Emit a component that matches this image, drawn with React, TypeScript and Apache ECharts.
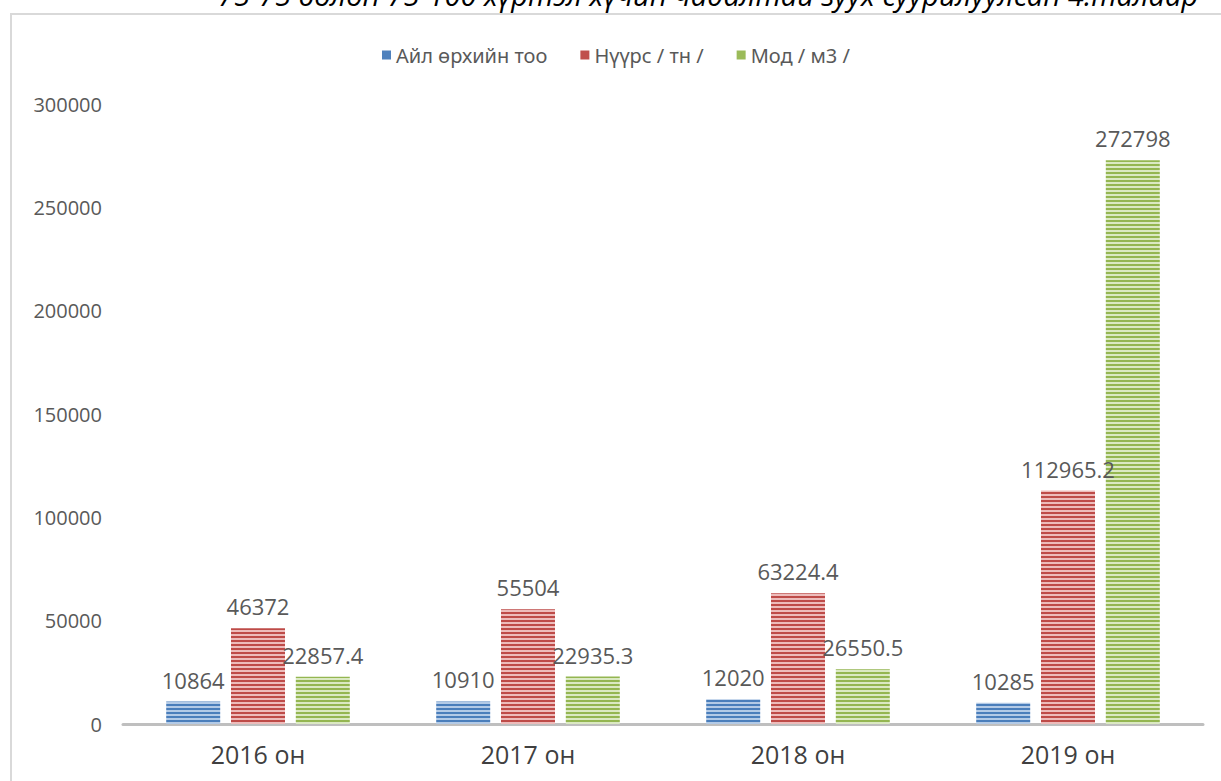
import React, { useEffect, useRef } from "react";
import * as echarts from "echarts";

const categories = ["2016 он", "2017 он", "2018 он", "2019 он"];
const seriesNames = ["Айл өрхийн тоо", "Нүүрс / тн /", "Мод / м3 /"];
const households = [10864, 10910, 12020, 10285];
const coal = [46372, 55504, 63224.4, 112965.2];
const wood = [22857.4, 22935.3, 26550.5, 272798];
const yMax = 300000;
const yInterval = 50000;
const titleText =
  "75-75 болон 75-100 хүртэл хүчин чадалтай зуух суурилуулсан 4.талаар";

const palette = [
  { dark: "#4a7ebb", light: "#b3cae6", legend: "#4f81bd" },
  { dark: "#be4b48", light: "#edbcbb", legend: "#c0504d" },
  { dark: "#94b651", light: "#dbe9c3", legend: "#9bbb59" },
];

function stripes(dark: string, light: string) {
  const c = document.createElement("canvas");
  c.width = 4;
  c.height = 4;
  const ctx = c.getContext("2d")!;
  ctx.fillStyle = light;
  ctx.fillRect(0, 0, 4, 4);
  ctx.fillStyle = dark;
  ctx.fillRect(0, 0, 4, 2);
  return { image: c, repeat: "repeat" as const };
}

export default function App() {
  const ref = useRef<HTMLDivElement>(null);
  useEffect(() => {
    if (!ref.current) return;
    const chart = echarts.init(ref.current, null, { renderer: "svg" });
    const data = [households, coal, wood];
    chart.setOption({
      animation: false,
      backgroundColor: "#ffffff",
      textStyle: { fontFamily: "'Open Sans', 'Noto Sans', sans-serif" },
      graphic: [
        {
          type: "rect",
          shape: { x: 11, y: 14, width: 1400, height: 1000 },
          style: { fill: "none", stroke: "#d9d9d9", lineWidth: 2 },
          silent: true,
        },
        {
          type: "text",
          x: 218,
          y: 9,
          style: {
            text: titleText,
            fontSize: 29,
            fontStyle: "italic",
            fontFamily: "'Open Sans', 'Noto Sans', sans-serif",
            fill: "#000000",
            verticalAlign: "bottom",
          },
          silent: true,
        },
      ],
      legend: {
        top: 40,
        left: 377,
        itemWidth: 9,
        itemHeight: 9,
        itemGap: 33,
        icon: "rect",
        textStyle: {
          fontSize: 20,
          color: "#595959",
          fontFamily: "'Liberation Sans Narrow', 'Noto Sans', sans-serif",
        },
        data: seriesNames.map((n, i) => ({
          name: n,
          itemStyle: { color: palette[i].legend },
        })),
      },
      grid: { left: 123, right: 18, top: 104, bottom: 57, containLabel: false },
      xAxis: {
        type: "category",
        data: categories,
        axisTick: { show: false },
        axisLine: { lineStyle: { color: "#bfbfbf", width: 3 } },
        axisLabel: { fontSize: 25, color: "#404040", margin: 17 },
      },
      yAxis: {
        type: "value",
        min: 0,
        max: yMax,
        interval: yInterval,
        splitLine: { show: false },
        axisLine: { show: false },
        axisTick: { show: false },
        axisLabel: {
          fontSize: 20,
          color: "#595959",
          margin: 21,
          formatter: (v: number) => String(v),
        },
      },
      series: seriesNames.map((name, i) => ({
        name,
        type: "bar",
        data: data[i],
        barWidth: 54,
        barGap: "20%",
        barCategoryGap: "32%",
        itemStyle: { color: stripes(palette[i].dark, palette[i].light) },
        label: {
          show: true,
          position: "top",
          distance: 11,
          fontSize: 22,
          color: "#595959",
        },
      })),
    });
    return () => chart.dispose();
  }, []);
  return (
    <div
      ref={ref}
      style={{ position: "fixed", left: 0, top: 0, width: 1221, height: 781 }}
    />
  );
}
